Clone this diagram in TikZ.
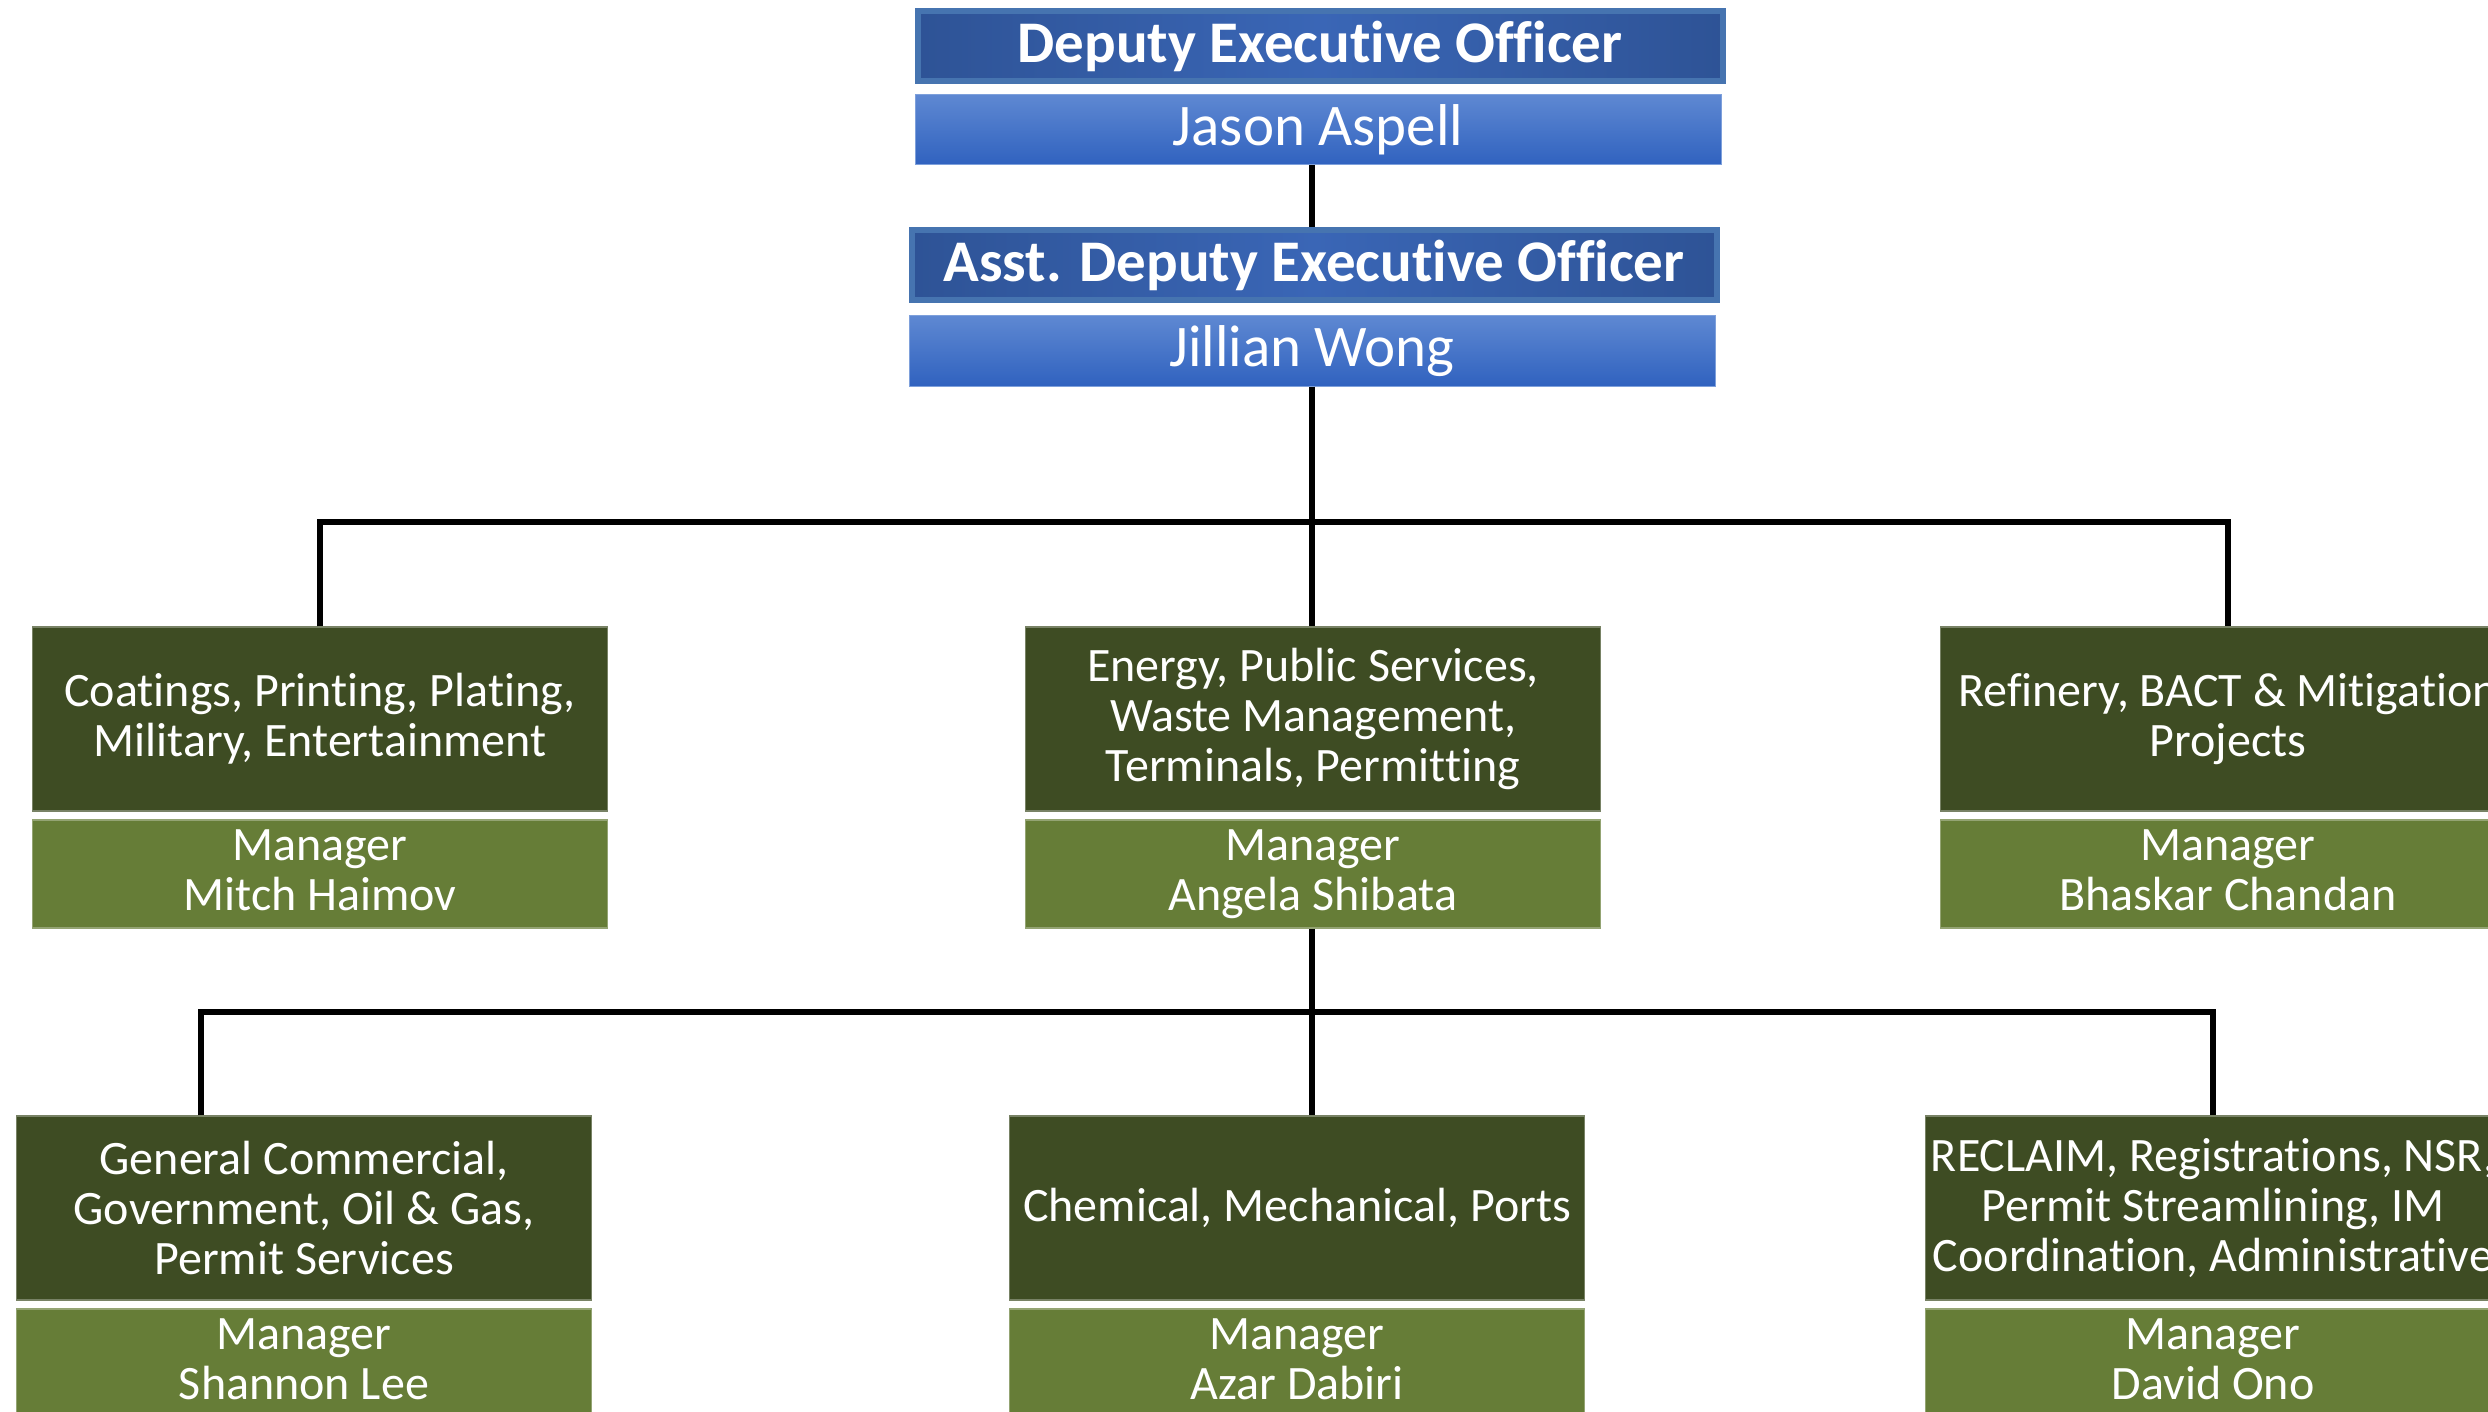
\documentclass[tikz,border=0pt]{standalone}
\usepackage{fontspec}
\setmainfont{Carlito}[Ligatures={NoCommon}]
\usetikzlibrary{positioning}

\definecolor{titleblue}{HTML}{2E5396}
\definecolor{titlemid}{HTML}{3A66B6}
\definecolor{titleedge}{HTML}{4674B0}
\definecolor{nametop}{HTML}{5E88D2}
\definecolor{namebot}{HTML}{3062BF}
\definecolor{darkgreen}{HTML}{3E4C23}
\definecolor{lightgreen}{HTML}{667D37}

\begin{document}
\begin{tikzpicture}[x=1pt, y=-1pt,
  titlebox/.style={rectangle, draw=titleedge, line width=6pt, left color=titleblue, right color=titleblue, middle color=titlemid,
    minimum width=805pt, minimum height=70pt, inner sep=0pt, text=white, font=\fontsize{59}{64}\selectfont\bfseries},
  namebox/.style={rectangle, top color=nametop, bottom color=namebot, draw=nametop!80!white, line width=1pt,
    minimum width=806pt, minimum height=70pt, inner sep=0pt, text=white, font=\fontsize{59}{64}\selectfont},
  unitbox/.style={rectangle, fill=darkgreen, draw=darkgreen!70!white, line width=1.5pt, minimum width=575pt, minimum height=184pt,
    inner sep=0pt, align=center, text=white, font=\fontsize{48}{50}\selectfont},
  mgrbox/.style={rectangle, fill=lightgreen, draw=lightgreen!70!white, line width=1.5pt, minimum width=575pt, minimum height=108pt,
    inner sep=0pt, align=center, text=white, font=\fontsize{48}{50}\selectfont, execute at end node={\vphantom{g}}},
  conn/.style={line width=6pt, black}
]
\useasboundingbox (0,0) rectangle (2488,1412);
\clip (0,0) rectangle (2488,1412);

% Executive officers
\node[titlebox] (deo) at (1320,46) {Deputy Executive Officer};
\node[namebox] (jason) at (1318,130) {Jason Aspell};
\node[titlebox] (adeo) at (1314,265) {Asst. Deputy Executive Officer};
\node[namebox] (jillian) at (1312,351) {Jillian Wong};

% Sections
\node[unitbox] (coat) at (320,719) {Coatings, Printing, Plating,\\Military, Entertainment};
\node[mgrbox] (haimov) at (320,874) {Manager\\Mitch Haimov};
\node[unitbox] (energy) at (1313,719) {Energy, Public Services,\\Waste Management,\\Terminals, Permitting};
\node[mgrbox] (shibata) at (1313,874) {Manager\\Angela Shibata};
\node[unitbox] (refin) at (2228,719) {Refinery, BACT \& Mitigation\\Projects};
\node[mgrbox] (chandan) at (2228,874) {Manager\\Bhaskar Chandan};

% Units under Energy
\node[unitbox] (general) at (304,1208) {General Commercial,\\Government, Oil \& Gas,\\Permit Services};
\node[mgrbox] (lee) at (304,1363) {Manager\\Shannon Lee};
\node[unitbox] (chem) at (1297,1208) {Chemical, Mechanical, Ports};
\node[mgrbox] (dabiri) at (1297,1363) {Manager\\Azar Dabiri};
\node[unitbox] (reclaim) at (2213,1208) {RECLAIM, Registrations, NSR,\\Permit Streamlining, IM\\Coordination, Administrative};
\node[mgrbox] (ono) at (2213,1363) {Manager\\David Ono};

% Connectors
\coordinate (bus1) at (1312,522);
\coordinate (bus2) at (1312,1012);
\coordinate (bus2l) at (201,1012);
\draw[conn] (jason.south -| jillian) -- (adeo.north -| jillian);
\draw[conn] (jillian.south) -- (energy.north -| jillian);
\draw[conn] (coat.north) |- (bus1) -| (refin.north);
\draw[conn] (shibata.south -| bus2) -- (chem.north -| bus2);
\draw[conn] (bus2l |- general.north) -- (bus2l) -| (reclaim.north);

\end{tikzpicture}
\end{document}
